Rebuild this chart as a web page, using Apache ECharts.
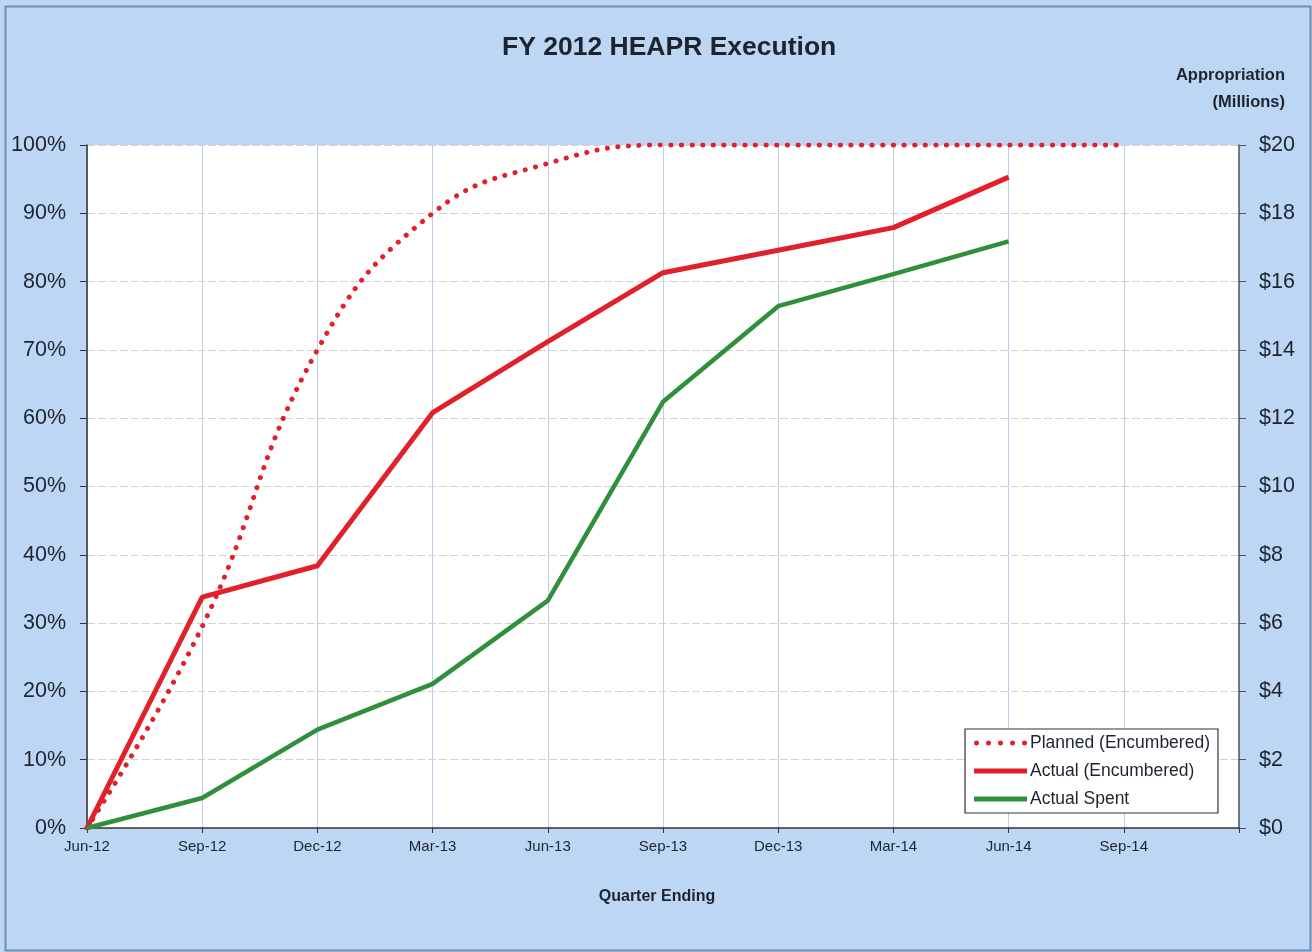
<!DOCTYPE html>
<html><head><meta charset="utf-8">
<script src="https://cdn.jsdelivr.net/npm/echarts@6/dist/echarts.min.js"></script>
<style>html,body{margin:0;padding:0;background:#bcd6f4;}#c{width:1312px;height:952px;}</style>
</head><body><div id="c"></div>
<script>
const categories = ['Jun-12','Sep-12','Dec-12','Mar-13','Jun-13','Sep-13','Dec-13','Mar-14','Jun-14','Sep-14',''];
const planned = [0, 29.5, 70, 90, 97.3, 100, 100, 100, 100, 100, null];
const actualEncumbered = [0, 33.8, 38.4, 60.8, 71.2, 81.3, 84.6, 87.9, 95.3, null, null];
const actualSpent = [0, 4.4, 14.4, 21.1, 33.3, 62.4, 76.4, 81.1, 85.9, null, null];
const leftTicks = {min:0, max:100, interval:10};
const rightTicks = {min:0, max:20, interval:2};
const legendNames = ['Planned (Encumbered)', 'Actual (Encumbered)', 'Actual Spent'];

const RED = '#e2202c', GREEN = '#2f8f3b';
const TXT = '#1c2430';
function dot(cx){ return 'M' + (cx-2.5) + ',2.5a2.5,2.5 0 1,0 5,0a2.5,2.5 0 1,0 -5,0Z'; }
const dotsIcon = 'path://' + [2.5, 14.5, 26.5, 38.5, 50.5].map(dot).join('');

const chart = echarts.init(document.getElementById('c'), null, {renderer:'canvas'});
chart.setOption({
  backgroundColor: '#bcd6f4',
  animation: false,
  textStyle: {fontFamily: 'Liberation Sans, Arial, sans-serif'},
  title: [
    {text: 'FY 2012 HEAPR Execution', left: 497, top: 29,
     textStyle: {fontSize: 26.5, fontWeight: 'bold', color: TXT}}
  ],
  grid: {left: 87, right: 73, top: 145, bottom: 124, show: true, backgroundColor: '#ffffff', borderWidth: 0},
  legend: {
    orient: 'vertical', left: 965, top: 729,
    backgroundColor: '#ffffff', borderColor: '#333', borderWidth: 1.2,
    padding: [4, 8, 4, 9], itemGap: 8, itemWidth: 53, itemHeight: 5,
    textStyle: {fontSize: 17.5, color: TXT, lineHeight: 20, padding: [0,0,0,-2]},
    data: [
      {name: legendNames[0], icon: dotsIcon},
      {name: legendNames[1], icon: 'rect'},
      {name: legendNames[2], icon: 'rect'}
    ]
  },
  xAxis: {
    type: 'category', data: categories, boundaryGap: false,
    name: 'Quarter Ending', nameLocation: 'middle', nameGap: 61,
    nameTextStyle: {fontSize: 16, fontWeight: 'bold', color: TXT, padding: [0, 12, 0, 0]},
    axisLine: {lineStyle: {color: '#333', width: 1.5}},
    axisTick: {show: true, length: 5, lineStyle: {color: '#333'}},
    axisLabel: {fontSize: 15, color: TXT, margin: 11, interval: 0},
    splitLine: {show: true, lineStyle: {color: '#b9d0ea', width: 1}}
  },
  yAxis: [
    {type: 'value', min: leftTicks.min, max: leftTicks.max, interval: leftTicks.interval,
     position: 'left',
     axisLine: {show: true, lineStyle: {color: '#333', width: 1.5}},
     axisTick: {show: true, length: 7, lineStyle: {color: '#333'}},
     axisLabel: {formatter: '{value}%', fontSize: 21.5, color: TXT, margin: 21},
     splitLine: {show: true, lineStyle: {color: '#d2d2d2', width: 1, type: [8, 3]}}},
    {type: 'value', min: rightTicks.min, max: rightTicks.max, interval: rightTicks.interval,
     position: 'right',
     axisLine: {show: true, lineStyle: {color: '#4a5566', width: 1.5}},
     axisTick: {show: true, length: 7, lineStyle: {color: '#4a5566'}},
     axisLabel: {formatter: '${value}', fontSize: 21.5, color: TXT, margin: 20},
     splitLine: {show: false}}
  ],
  series: [
    {name: legendNames[0], type: 'line', data: planned, smooth: 0.45,
     symbol: 'none', yAxisIndex: 0, z: 3,
     itemStyle: {color: RED},
     lineStyle: {color: RED, width: 5, type: [0.1, 10.5], cap: 'round'}},
    {name: legendNames[1], type: 'line', data: actualEncumbered,
     symbol: 'none', yAxisIndex: 0, z: 4,
     itemStyle: {color: RED},
     lineStyle: {color: RED, width: 5}},
    {name: legendNames[2], type: 'line', data: actualSpent,
     symbol: 'none', yAxisIndex: 0, z: 4,
     itemStyle: {color: GREEN},
     lineStyle: {color: GREEN, width: 4.5}}
  ],
  graphic: [
    {type: 'rect', left: 3, top: 4, shape: {width: 1305, height: 944},
     style: {fill: 'none', stroke: '#6f8fb5', lineWidth: 2}, silent: true},
    {type: 'text', x: 1285, y: 62, silent: true,
     style: {text: 'Appropriation\n(Millions)', align: 'right', verticalAlign: 'top',
             font: 'bold 16.5px "Liberation Sans", Arial, sans-serif', lineHeight: 27, fill: TXT}}
  ]
});
</script></body></html>
